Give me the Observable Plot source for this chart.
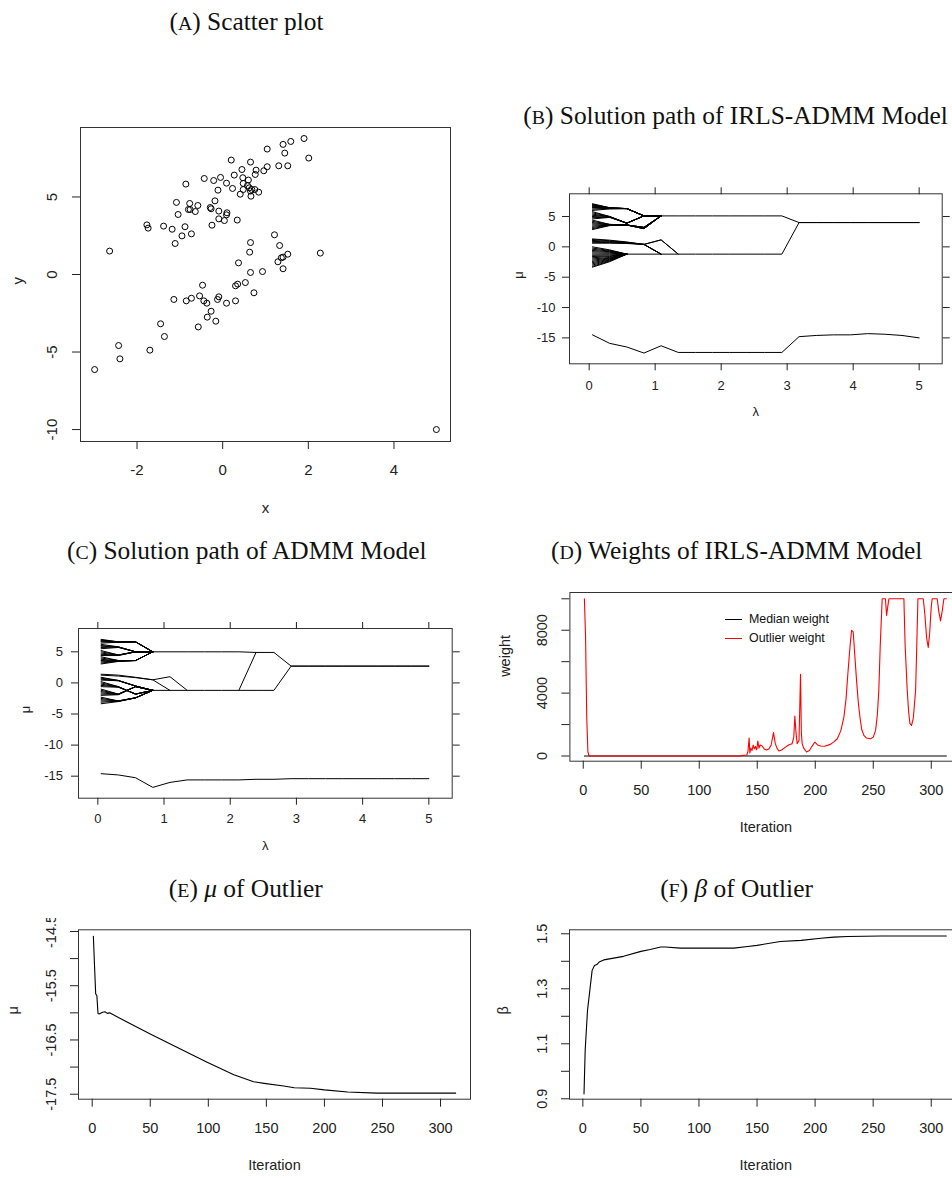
<!DOCTYPE html>
<html><head><meta charset="utf-8">
<script src="https://cdn.jsdelivr.net/npm/d3@7"></script>
<script src="https://cdn.jsdelivr.net/npm/@observablehq/plot@0.6"></script>
<style>
body{margin:0;background:#fff;}
#root{position:relative;width:952px;height:1178px;overflow:hidden;background:#fff;}
.title{position:absolute;width:600px;text-align:center;font-family:"Liberation Serif","Times New Roman",serif;font-size:25.4px;line-height:30px;color:#111;white-space:nowrap;}
.sc{font-size:0.78em;}
.panel{position:absolute;overflow:hidden;}
.leg{position:absolute;font-family:"Liberation Sans",Arial,sans-serif;font-size:12.4px;color:#111;}
.leg div{height:19px;display:flex;align-items:center;}
.leg span{display:inline-block;width:17px;height:0;margin-right:7px;}
</style></head><body>
<div id="root">
  <div class="title" style="left:-53.5px;top:5.8px">(<span class="sc">A</span>) Scatter plot</div>
  <div class="title" style="left:435.5px;top:100.4px">(<span class="sc">B</span>) Solution path of IRLS-ADMM Model</div>
  <div class="title" style="left:-53.3px;top:534.8px">(<span class="sc">C</span>) Solution path of ADMM Model</div>
  <div class="title" style="left:436.7px;top:534.8px">(<span class="sc">D</span>) Weights of IRLS-ADMM Model</div>
  <div class="title" style="left:-54.2px;top:873.1px">(<span class="sc">E</span>) <i>μ</i> of Outlier</div>
  <div class="title" style="left:436.5px;top:873.1px">(<span class="sc">F</span>) <i>β</i> of Outlier</div>
  <div class="panel" id="pA" style="left:0;top:100px;width:480px;height:430px"></div>
  <div class="panel" id="pB" style="left:480px;top:170px;width:472px;height:270px"></div>
  <div class="panel" id="pC" style="left:0;top:605px;width:480px;height:270px"></div>
  <div class="panel" id="pD" style="left:480px;top:570px;width:482px;height:300px"></div>
  <div class="panel" id="pE" style="left:0;top:918px;width:480px;height:260px"></div>
  <div class="panel" id="pF" style="left:480px;top:918px;width:482px;height:260px"></div>
  <div class="leg" style="left:725px;top:609.8px">
    <div><span style="border-top:1.3px solid #000"></span>Median weight</div>
    <div><span style="border-top:1.3px solid #ff0000"></span>Outlier weight</div>
  </div>
</div>
<script>
// ---------- Panel A: scatter data ----------
const scatterX = [1.90,1.59,1.41,1.04,1.45,2.01,0.20,0.65,1.04,1.31,1.52,0.45,0.78,0.96,0.76,0.27,-0.43,-0.05,-0.21,0.47,0.60,0.09,0.48,-0.86,0.58,0.62,0.23,0.48,0.68,0.75,-0.11,0.65,0.84,0.41,0.66,-0.18,-1.08,-0.77,-0.58,-0.29,-0.27,-0.80,-0.76,-0.64,-0.09,0.10,0.09,-1.04,-0.09,0.34,0.04,-1.38,-1.77,-1.74,-0.88,-0.25,-1.18,-0.73,-0.95,-1.11,-2.64,
  1.21,0.65,1.33,0.63,2.28,1.52,1.37,1.41,1.29,1.41,0.37,0.65,0.93,-0.47,0.53,0.35,0.30,0.73,-0.54,-0.09,-0.12,-0.73,-1.14,-0.85,-0.44,-0.37,0.09,0.30,-0.27,-0.36,-0.16,-1.45,-0.57,-1.36,-2.43,-1.70,-2.40,-2.99,4.99];
const scatterY = [8.77,8.58,8.39,8.09,7.83,7.51,7.38,7.25,6.95,7.01,7.01,6.77,6.73,6.69,6.45,6.41,6.19,6.26,6.06,6.24,6.09,5.89,5.87,5.83,5.74,5.59,5.55,5.48,5.48,5.48,5.44,5.38,5.31,5.18,5.05,4.75,4.65,4.58,4.45,4.32,4.24,4.19,4.19,4.06,4.09,3.98,3.85,3.87,3.59,3.51,3.48,3.12,3.20,2.99,3.08,3.18,2.92,2.62,2.49,2.00,1.51,
  2.56,2.06,1.87,1.44,1.38,1.31,1.08,1.12,0.82,0.37,0.75,0.13,0.19,-0.69,-0.52,-0.62,-0.73,-1.18,-1.38,-1.44,-1.61,-1.53,-1.61,-1.70,-1.70,-1.85,-1.85,-1.70,-2.37,-2.75,-3.01,-3.18,-3.38,-4.00,-4.58,-4.88,-5.44,-6.13,-10.00];
const xTicksA = [-2,0,2,4];
const yTicksA = [-10,-5,0,5];

// ---------- Panels B, C: solution paths over lambda grid ----------
const lambdaGrid = [0.05,0.31,0.57,0.83,1.09,1.35,1.61,1.87,2.13,2.39,2.66,2.92,3.18,3.44,3.70,3.96,4.22,4.48,4.74,5.00];
const lambdaTicks = [0,1,2,3,4,5];
const muTicks = [5,0,-5,-10,-15];

// B (IRLS-ADMM): paths start at lambda index 0
const upperFanB = [
  [7.1,6.45,6.3,5.1,5.1],[7.0,6.45,6.3,5.1,5.1],[6.9,6.4,6.3,5.1,5.1],[6.8,6.4,6.3,5.1,5.1],[6.7,6.4,6.3,5.1,5.1],
  [6.6,6.35,6.3,5.1,5.1],[6.5,6.35,6.3,5.1,5.1],[6.4,6.3,6.3,5.1,5.1],[6.2,6.3,6.3,5.1,5.1],[6.0,6.25,6.3,5.1,5.1],
  [5.8,5.0,3.9,5.1,5.1],[5.6,5.0,3.9,5.1,5.1],[5.4,4.95,3.9,5.1,5.1],[5.2,4.95,3.9,5.1,5.1],[5.0,4.9,3.9,5.1,5.1],
  [4.8,4.9,3.9,5.1,5.1],[4.6,4.85,3.9,5.1,5.1],
  [4.4,3.7,3.6,3.0,5.1],[4.2,3.7,3.6,3.0,5.1],[4.0,3.65,3.6,3.0,5.1],[3.8,3.65,3.6,3.0,5.1],
  [3.6,3.6,3.6,3.2,5.1],[3.4,3.6,3.6,3.2,5.1],[3.2,3.55,3.6,3.2,5.1],[3.0,3.55,3.6,3.2,5.1],[2.85,3.5,3.6,3.2,5.1]
];
const lowerFanB = [
  [1.3,1.1,0.8,0.4,1.15,-1.2],[1.2,1.0,0.75,0.4,1.15,-1.2],[1.05,0.9,0.7,0.4,-1.2],[0.9,0.8,0.65,0.4,-1.2],
  [0.75,0.7,0.6,0.4,-1.2],[0.6,0.6,0.55,0.4,-1.2],
  [0.0,-0.5,-1.2],[-0.2,-0.6,-1.2],[-0.4,-0.7,-1.2],[-0.6,-0.8,-1.2],[-0.8,-0.9,-1.2],[-1.0,-1.05,-1.2],
  [-1.2,-1.2,-1.2],[-1.4,-1.35,-1.2],[-1.6,-1.5,-1.2],[-1.8,-1.6,-1.2],[-2.0,-1.75,-1.2],[-2.2,-1.85,-1.2],
  [-2.4,-1.95,-1.2],[-2.6,-2.05,-1.2],[-2.8,-2.15,-1.2],[-3.0,-2.25,-1.2],[-3.2,-2.35,-1.2],[-3.35,-2.45,-1.2]
];
const upperTrunkB = [5.1,5.1,5.1,5.1,5.1,5.1,5.1,5.1,4.0,4.0,4.0,4.0,4.0,4.0,4.0,4.0];                  // from index 4
const lowerTrunkB = [-1.2,-1.2,-1.2,-1.2,-1.2,-1.2,-1.2,-1.2,-1.2,-1.2,4.0,4.0,4.0,4.0,4.0,4.0,4.0,4.0]; // from index 2
const outlierPathB = [-14.5,-15.9,-16.5,-17.5,-16.3,-17.4,-17.4,-17.4,-17.4,-17.4,-17.4,-17.4,-14.8,-14.6,-14.5,-14.5,-14.3,-14.4,-14.6,-15.0];

// C (ADMM)
const upperFanC = [
  [7.0,6.6,6.6,5.0],[6.9,6.6,6.6,5.0],[6.8,6.6,6.6,5.0],[6.7,6.6,6.6,5.0],[6.6,6.55,6.6,5.0],[6.4,6.55,6.6,5.0],
  [6.2,5.8,5.0,5.0],[6.0,5.8,5.0,5.0],[5.9,5.75,5.0,5.0],[5.7,5.75,5.0,5.0],[5.5,5.7,5.0,5.0],
  [5.2,4.5,5.0,5.0],[5.0,4.5,5.0,5.0],[4.8,4.45,5.0,5.0],[4.6,4.45,5.0,5.0],[4.4,4.4,5.0,5.0],
  [4.2,3.6,3.6,5.0],[4.0,3.6,3.6,5.0],[3.8,3.55,3.6,5.0],[3.6,3.55,3.6,5.0],[3.4,3.5,3.6,5.0],[3.2,3.5,3.6,5.0],[3.05,3.45,3.6,5.0]
];
const lowerFanC = [
  [1.4,1.25,0.9,0.5,1.0,-1.2],[1.25,1.1,0.85,0.5,-1.2],
  [0.9,0.4,-0.5,-1.2],[0.75,0.4,-0.5,-1.2],[0.6,0.35,-0.5,-1.2],[0.45,0.35,-0.5,-1.2],
  [0.2,-0.6,-1.8,-1.2],[0.0,-0.6,-1.8,-1.2],[-0.2,-0.65,-1.8,-1.2],[-0.4,-0.65,-1.8,-1.2],[-0.6,-0.7,-1.8,-1.2],
  [-1.0,-1.8,-0.6,-1.2],[-1.2,-1.8,-0.6,-1.2],[-1.4,-1.8,-0.6,-1.2],[-1.6,-1.85,-0.6,-1.2],[-1.8,-1.85,-0.6,-1.2],[-2.0,-1.9,-0.6,-1.2],
  [-2.3,-2.9,-2.4,-1.2],[-2.5,-2.9,-2.4,-1.2],[-2.7,-2.9,-2.4,-1.2],[-2.9,-2.95,-2.4,-1.2],[-3.1,-2.95,-2.4,-1.2],[-3.35,-3.0,-2.4,-1.2]
];
const upperTrunkC = [5.0,5.0,5.0,5.0,5.0,5.0,4.9,4.9,2.7,2.7,2.7,2.7,2.7,2.7,2.7,2.7,2.7];      // from index 3
const lowerTrunkC = [-1.2,-1.2,-1.2,-1.2,-1.2,-1.2,-1.2,-1.2,2.7,2.7,2.7,2.7,2.7,2.7,2.7,2.7,2.7]; // from index 3
const jumpC = [-1.2,4.9];                                                                           // from index 8
const outlierPathC = [-14.6,-14.8,-15.25,-16.8,-16.0,-15.6,-15.6,-15.6,-15.6,-15.5,-15.5,-15.4,-15.4,-15.4,-15.4,-15.4,-15.4,-15.4,-15.4,-15.4];

// ---------- Panel D: weights ----------
const medianIter = [1,313];
const medianWeight = [0,0];
const outlierIter = [1,2,3,4,5,135,138,141,142,143,143.6,144.5,145.5,146.5,147.5,148.5,149.5,150.5,151.5,152.5,154,156,158,160,162,164,165.5,167,168.6,171,174,177,180,181.5,182.4,183.4,184.4,186,187.3,188,188.7,190,192.5,195,197,199.7,202,204.5,208,213,216,219,222,224.7,226.5,228.1,230,231.3,232.7,234,235.6,237,238.5,240,241.9,244,247.7,250,252,253.5,254.8,256,257.7,260.5,261.5,262.5,263.5,276.4,277.5,279.3,280.5,281.6,283,284.5,286.5,287.5,288.5,293.1,294.5,296,297.4,298.6,300,300.8,305.1,306.5,308,309.4,310.9,313];
const outlierWeight = [10000,7560,2480,270,0,0,40,60,300,1150,200,500,350,700,450,600,400,950,500,700,650,450,380,450,700,1485,800,500,315,380,550,700,780,1200,2540,1500,785,1000,5190,1500,790,500,255,350,600,890,700,636,620,740,900,1100,1600,2480,3600,5230,7000,7990,7900,6500,4810,3500,2480,1700,1315,1150,1100,1200,1630,2600,4170,7000,10000,10000,8940,9500,10000,10000,7000,4170,2800,2060,1950,2400,4170,7000,10000,10000,9000,7500,6900,7800,9500,10000,10000,9200,8600,9200,10000,10000];
const iterTicks = [0,50,100,150,200,250,300];
const weightTicks = [0,2000,4000,6000,8000,10000];
const weightLabels = [0,4000,8000];

// ---------- Panel E: mu of outlier ----------
const muIter = [1,2,3,4,5,6,9,11,13,15,30,50,79,99,122,139,148,165,174,188,200,220,245,313];
const muOutlier = [-14.59,-15.13,-15.65,-15.68,-16.01,-16.02,-15.99,-15.98,-16.01,-16.00,-16.17,-16.39,-16.70,-16.91,-17.14,-17.27,-17.30,-17.35,-17.38,-17.39,-17.42,-17.46,-17.48,-17.48];
const muTicksE = [-14.5,-15,-15.5,-16,-16.5,-17,-17.5];
const muLabelsE = [-14.5,-15.5,-16.5,-17.5];

// ---------- Panel F: beta of outlier ----------
const betaIter = [1,2,4,6,8,10,12,14,18,35,50,58,67,71,84,130,142,150,170,188,205,216,228,257,313];
const betaOutlier = [0.918,1.076,1.221,1.294,1.367,1.385,1.388,1.397,1.405,1.418,1.436,1.443,1.452,1.452,1.448,1.448,1.454,1.458,1.472,1.476,1.484,1.488,1.490,1.492,1.492];
const betaTicks = [0.9,1.0,1.1,1.2,1.3,1.4,1.5];
const betaLabels = [0.9,1.1,1.3,1.5];

// ---------- helpers ----------
const SANS = "'Liberation Sans', Arial, Helvetica, sans-serif";
const INK = "#222";
function baseStyle(size){ return {background:"transparent", fontFamily:SANS, fontSize:size+"px", color:INK, overflow:"visible", maxWidth:"none"}; }
function pathRows(paths, startIdx, tag){
  const rows = [];
  paths.forEach((p,k)=>p.forEach((v,i)=>rows.push({lambda:lambdaGrid[startIdx+i], mu:v, id:tag+k})));
  return rows;
}
function zipRows(xs, ys){ return xs.map((x,i)=>({x, y:ys[i]})); }
const fmt = d => String(d);
const blank = () => "";

function rAxes(o){
  return [
    Plot.axisX({ticks:o.xTicks, tickSize:8, tickPadding:o.xPad, tickFormat:fmt, label:null}),
    Plot.axisY({ticks:o.yTicks, tickSize:8, tickFormat:blank, label:null}),
    Plot.text(o.yLabels, {y:d=>d, frameAnchor:"left", dx:o.yLabDx, rotate:-90, text:fmt, textAnchor:"middle", lineAnchor:"middle"}),
    Plot.text([o.xTitle], {frameAnchor:"bottom", dy:o.xTitleDy, text:d=>d, lineAnchor:"middle"}),
    Plot.text([o.yTitle], {frameAnchor:"left", dx:o.yTitleDx, rotate:-90, text:d=>d, lineAnchor:"middle"})
  ];
}
function latticeAxes(o){
  return [
    Plot.axisX({anchor:"bottom", ticks:lambdaTicks, tickSize:7, tickPadding:o.xPad, tickFormat:fmt, label:null}),
    Plot.axisX({anchor:"top", ticks:lambdaTicks, tickSize:7, tickFormat:blank, label:null}),
    Plot.axisY({anchor:"left", ticks:muTicks, tickSize:7, tickPadding:o.yPad, tickFormat:fmt, label:null}),
    Plot.axisY({anchor:"right", ticks:muTicks, tickSize:7, tickFormat:blank, label:null}),
    Plot.text(["λ"], {frameAnchor:"bottom", dy:o.xTitleDy, text:d=>d, lineAnchor:"middle"}),
    Plot.text(["μ"], {frameAnchor:"left", dx:o.yTitleDx, rotate:-90, text:d=>d, lineAnchor:"middle"})
  ];
}

// ---------- Panel A ----------
const plotA = Plot.plot({
  width:480, height:430, marginLeft:80, marginRight:30, marginTop:27, marginBottom:89,
  x:{domain:[-3.32,5.32]}, y:{domain:[-10.77,9.48]},
  style:baseStyle(15),
  marks:[
    Plot.frame({stroke:"#333"}),
    Plot.dot(zipRows(scatterX, scatterY), {x:"x", y:"y", r:3, stroke:"#000", strokeWidth:1, fill:"none"}),
    ...rAxes({xTicks:xTicksA, yTicks:yTicksA, yLabels:yTicksA, xPad:15, yLabDx:-28.3, xTitle:"x", xTitleDy:67, yTitle:"y", yTitleDx:-62})
  ]
});
document.getElementById("pA").appendChild(plotA);

// ---------- Panel B ----------
const rowsB = [
  ...pathRows(upperFanB,0,"ub"), ...pathRows(lowerFanB,0,"lb"),
  ...pathRows([upperTrunkB],4,"utb"), ...pathRows([lowerTrunkB],2,"ltb"), ...pathRows([outlierPathB],0,"ob")
];
const plotB = Plot.plot({
  width:472, height:270, marginLeft:89, marginRight:10.3, marginTop:23.3, marginBottom:76.7,
  x:{domain:[-0.298,5.349]}, y:{domain:[-19.27,8.74]},
  style:baseStyle(13),
  marks:[
    Plot.frame({stroke:"#333"}),
    Plot.line(rowsB, {x:"lambda", y:"mu", z:"id", stroke:"#000", strokeWidth:1}),
    ...latticeAxes({xPad:10, yPad:7, xTitleDy:48.4, yTitleDx:-50.7})
  ]
});
document.getElementById("pB").appendChild(plotB);

// ---------- Panel C ----------
const rowsC = [
  ...pathRows(upperFanC,0,"uc"), ...pathRows(lowerFanC,0,"lc"),
  ...pathRows([upperTrunkC],3,"utc"), ...pathRows([lowerTrunkC],3,"ltc"),
  ...pathRows([jumpC],8,"jc"), ...pathRows([outlierPathC],0,"oc")
];
const plotC = Plot.plot({
  width:480, height:270, marginLeft:78, marginRight:28.3, marginTop:23, marginBottom:77.3,
  x:{domain:[-0.292,5.353]}, y:{domain:[-18.54,8.75]},
  style:baseStyle(13),
  marks:[
    Plot.frame({stroke:"#333"}),
    Plot.line(rowsC, {x:"lambda", y:"mu", z:"id", stroke:"#000", strokeWidth:1}),
    ...latticeAxes({xPad:9, yPad:8.5, xTitleDy:47.3, yTitleDx:-53})
  ]
});
document.getElementById("pC").appendChild(plotC);

// ---------- Panel D ----------
const plotD = Plot.plot({
  width:482, height:300, marginLeft:89.4, marginRight:0.5, marginTop:22, marginBottom:109.3,
  x:{domain:[-11.5,326.5]}, y:{domain:[-330,10400]},
  style:baseStyle(14.5),
  marks:[
    Plot.frame({stroke:"#333"}),
    Plot.line(zipRows(medianIter, medianWeight), {x:"x", y:"y", stroke:"#000", strokeWidth:1.1}),
    Plot.line(zipRows(outlierIter, outlierWeight), {x:"x", y:"y", stroke:"#ff0000", strokeWidth:1.1}),
    ...rAxes({xTicks:iterTicks, yTicks:weightTicks, yLabels:weightLabels, xPad:16, yLabDx:-27.7, xTitle:"Iteration", xTitleDy:66, yTitle:"weight", yTitleDx:-64.4})
  ]
});
document.getElementById("pD").appendChild(plotD);

// ---------- Panel E ----------
const plotE = Plot.plot({
  width:480, height:260, marginLeft:78, marginRight:10, marginTop:11.3, marginBottom:79.3,
  x:{domain:[-11.8,325.8]}, y:{domain:[-17.592,-14.469]},
  style:baseStyle(14.5),
  marks:[
    Plot.frame({stroke:"#333"}),
    Plot.line(zipRows(muIter, muOutlier), {x:"x", y:"y", stroke:"#000", strokeWidth:1.1}),
    ...rAxes({xTicks:iterTicks, yTicks:muTicksE, yLabels:muLabelsE, xPad:16, yLabDx:-27, xTitle:"Iteration", xTitleDy:66.3, yTitle:"μ", yTitleDx:-64.7})
  ]
});
document.getElementById("pE").appendChild(plotE);

// ---------- Panel F ----------
const plotF = Plot.plot({
  width:482, height:260, marginLeft:89, marginRight:0.5, marginTop:11.3, marginBottom:79.3,
  x:{domain:[-11.5,326.5]}, y:{domain:[0.8985,1.5145]},
  style:baseStyle(14.5),
  marks:[
    Plot.frame({stroke:"#333"}),
    Plot.line(zipRows(betaIter, betaOutlier), {x:"x", y:"y", stroke:"#000", strokeWidth:1.1}),
    ...rAxes({xTicks:iterTicks, yTicks:betaTicks, yLabels:betaLabels, xPad:16, yLabDx:-27.3, xTitle:"Iteration", xTitleDy:66.3, yTitle:"β", yTitleDx:-66.3})
  ]
});
document.getElementById("pF").appendChild(plotF);
</script>
</body></html>
